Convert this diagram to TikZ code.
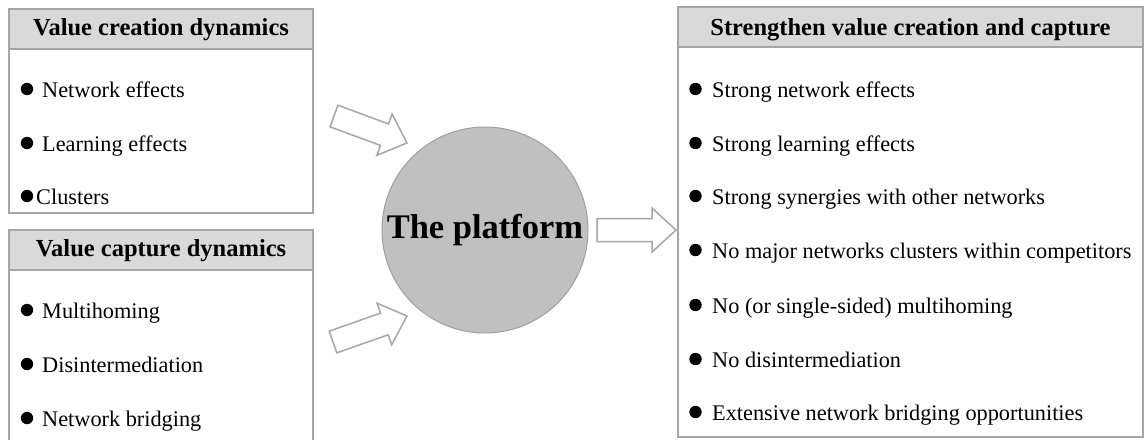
\documentclass[tikz,border=0pt]{standalone}
\usepackage{fontspec}
\setmainfont{Liberation Serif}
\usetikzlibrary{calc}

\definecolor{framegray}{HTML}{A6A6A6}
\definecolor{headfill}{HTML}{D9D9D9}
\definecolor{platfill}{HTML}{C0C0C0}
\definecolor{platline}{HTML}{A0A0A0}

\tikzset{
  panel/.style={draw=framegray, line width=1.5pt, fill=white},
  headband/.style={draw=framegray, line width=1.5pt, fill=headfill},
  headtext/.style={anchor=base, inner sep=0pt, font=\fontsize{24.5}{28}\selectfont\bfseries},
  item/.style={anchor=base west, inner sep=0pt, font=\fontsize{22.3}{26}\selectfont},
  dot/.style={fill=black},
  platform/.style={circle, draw=platline, line width=1pt, fill=platfill, minimum size=206pt,
                   inner sep=0pt, font=\fontsize{34.5}{40}\selectfont\bfseries},
  blockarrow/.style={draw=framegray, line width=1.5pt, fill=white, line join=miter},
}

% hollow block arrow from #2 (tail) to #3 (tip); #1 prefixes the helper coordinate
\newcommand\blockarrow[3]{%
  \coordinate (#1h) at ($(#3)!24pt!(#2)$);
  \draw[blockarrow]
    ($(#2)!11.5pt!90:(#3)$) -- ($(#1h)!11.5pt!90:(#3)$) -- ($(#1h)!22pt!90:(#3)$)
    -- (#3)
    -- ($(#1h)!22pt!-90:(#3)$) -- ($(#1h)!11.5pt!-90:(#3)$) -- ($(#2)!11.5pt!-90:(#3)$)
    -- cycle;
}

% bullet placed to the left of an item's first letter
\newcommand\itemdot[2][15]{%
  \fill[dot] ($(#2.base west)+(-#1,-8)$) circle (6.2);
}

\begin{document}
\begin{tikzpicture}[x=1pt, y=-1pt]
  \clip (0,0) rectangle (1147,439);
  \fill[white] (0,0) rectangle (1147,439);

  % value creation panel
  \draw[panel] (9,9) rectangle (313,213);
  \draw[headband] (9,9) rectangle (313,49);
  \node[headtext] (hcreate) at (161,35) {Value creation dynamics};
  \node[item] (c1) at (42,97)  {Network effects};
  \node[item] (c2) at (42,151) {Learning effects};
  \node[item] (c3) at (36,204) {Clusters};
  \itemdot{c1}
  \itemdot{c2}
  \itemdot[9]{c3}

  % value capture panel (runs off the lower edge)
  \draw[panel] (9,450) -- (9,230) -- (313,230) -- (313,450);
  \draw[headband] (9,230) rectangle (313,270);
  \node[headtext] (hcapture) at (161,256) {Value capture dynamics};
  \node[item] (p1) at (42,318) {Multihoming};
  \node[item] (p2) at (42,372) {Disintermediation};
  \node[item] (p3) at (42,426) {Network bridging};
  \itemdot{p1}
  \itemdot{p2}
  \itemdot{p3}

  % outcome panel
  \draw[panel] (678,7) rectangle (1143,437);
  \draw[headband] (678,7) rectangle (1143,47);
  \node[headtext] (hstrong) at (910.5,35) {Strengthen value creation and capture};
  \node[item] (s1) at (712,97)  {Strong network effects};
  \node[item] (s2) at (712,151) {Strong learning effects};
  \node[item] (s3) at (712,204) {Strong synergies with other networks};
  \node[item] (s4) at (712,258) {No major networks clusters within competitors};
  \node[item] (s5) at (712,313) {No (or single-sided) multihoming};
  \node[item] (s6) at (712,367) {No disintermediation};
  \node[item] (s7) at (712,420) {Extensive network bridging opportunities};
  \foreach \n in {s1,s2,s3,s4,s5,s6,s7} {\itemdot[16.5]{\n}}

  % central platform
  \node[platform] (plat) at (485,230) {The platform};

  % block arrows
  \coordinate (inAtail) at (334,116);
  \coordinate (inAtip)  at (407,143);
  \coordinate (inBtail) at (333,342);
  \coordinate (inBtip)  at (407,316);
  \coordinate (outtail) at (597,230);
  \coordinate (outtip)  at (676,230);
  \blockarrow{inA}{inAtail}{inAtip}
  \blockarrow{inB}{inBtail}{inBtip}
  \blockarrow{out}{outtail}{outtip}
\end{tikzpicture}
\end{document}
